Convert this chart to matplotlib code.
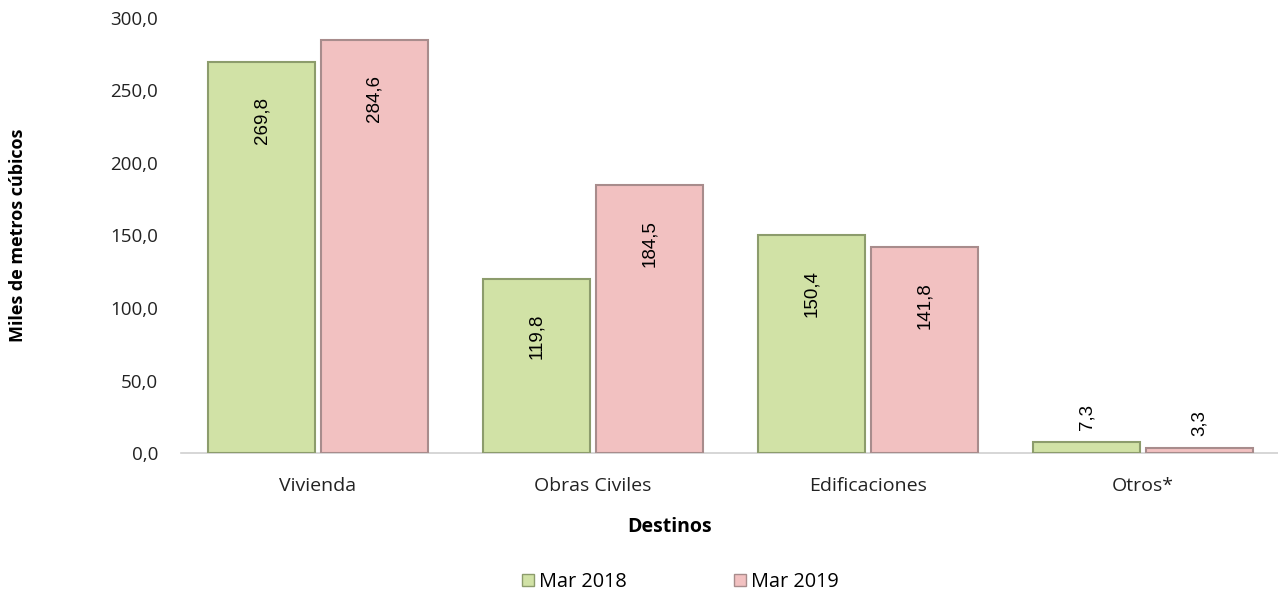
import numpy as np
import matplotlib.pyplot as plt
from matplotlib.patches import Patch

plt.rcParams['font.family'] = ['Open Sans', 'DejaVu Sans']

categories = ['Vivienda', 'Obras Civiles', 'Edificaciones', 'Otros*']
series_names = ['Mar 2018', 'Mar 2019']
mar_2018 = [269.8, 119.8, 150.4, 7.3]
mar_2019 = [284.6, 184.5, 141.8, 3.3]
y_ticks = [0, 50, 100, 150, 200, 250, 300]

face_colors = ['#d1e2a6', '#f2c1c1']
edge_colors = ['#8c9c6c', '#a88c8c']


def fmt(v):
    return f'{v:.1f}'.replace('.', ',')


fig = plt.figure(figsize=(12.78, 5.96), dpi=100)
ax = fig.add_axes([180.5 / 1278, 143 / 596, 1100 / 1278, 435 / 596])

x = np.arange(len(categories))
width = 0.389
offset = 0.205

for k, vals in enumerate([mar_2018, mar_2019]):
    pos = x + (-offset if k == 0 else offset)
    bars = ax.bar(pos, vals, width=width, color=face_colors[k],
                  edgecolor=edge_colors[k], linewidth=1.5, zorder=3)
    for b, v in zip(bars, vals):
        cx = b.get_x() + b.get_width() / 2
        if v > 50:
            ax.annotate(fmt(v), (cx, v), xytext=(0, -25), textcoords='offset points',
                        rotation=90, ha='center', va='top', fontsize=13.5,
                        family='Liberation Sans', color='black')
        else:
            ax.annotate(fmt(v), (cx, v), xytext=(0, 9), textcoords='offset points',
                        rotation=90, ha='center', va='bottom', fontsize=13.5,
                        family='Liberation Sans', color='black')

ax.set_xlim(-0.5, len(categories) - 0.5)
ax.set_ylim(0, 300)
ax.set_yticks(y_ticks)
ax.set_yticklabels([fmt(t) for t in y_ticks], fontsize=13.5, color='#222222')
ax.set_xticks(x)
ax.set_xticklabels(categories, fontsize=14, color='#222222')
ax.tick_params(axis='both', length=0)
ax.tick_params(axis='y', pad=16)
ax.tick_params(axis='x', pad=17)

for side in ['top', 'right', 'left']:
    ax.spines[side].set_visible(False)
ax.spines['bottom'].set_color('#d0d0d0')
ax.spines['bottom'].set_linewidth(1.2)

fig.text(18 / 1278, 1 - 235 / 596, 'Miles de metros cúbicos', rotation=90,
         ha='center', va='center', fontsize=13, fontweight='bold')
fig.text(670 / 1278, 1 - 527 / 596, 'Destinos', ha='center', va='center',
         fontsize=14, fontweight='bold')

handles = [Patch(facecolor=face_colors[i], edgecolor=edge_colors[i]) for i in range(2)]
fig.legend(handles, series_names, loc='center', bbox_to_anchor=(680 / 1278, 1 - 582 / 596),
           ncol=2, frameon=False, fontsize=14.3, handlelength=0.6, handleheight=0.6,
           handletextpad=0.25, columnspacing=5.4, borderpad=0)

fig.savefig('out.png', dpi=100)
